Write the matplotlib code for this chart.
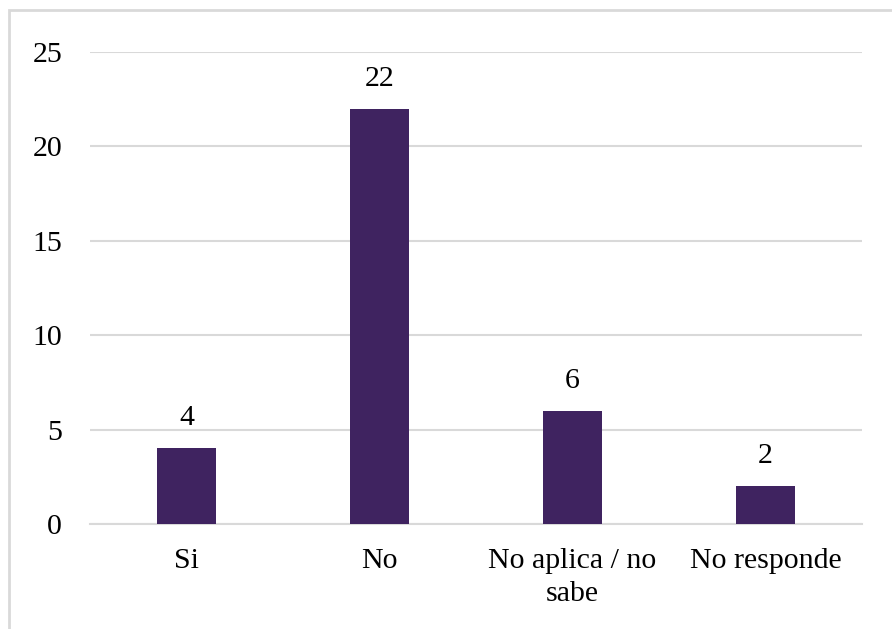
import matplotlib.pyplot as plt
from matplotlib.patches import Rectangle

categories = ['Si', 'No', 'No aplica / no\nsabe', 'No responde']
values = [4, 22, 6, 2]

plt.rcParams['font.family'] = ['Liberation Serif', 'DejaVu Serif']

fig = plt.figure(figsize=(8.92, 6.29), dpi=100)
ax = fig.add_axes([90/892, 1 - 524/629, 772/892, 472/629])

x = range(len(categories))
bars = ax.bar(x, values, width=0.31, color='#3F2360', zorder=3)
for b, v in zip(bars, values):
    ax.text(b.get_x() + b.get_width()/2, v + 0.9, str(v), ha='center', va='bottom', fontsize=21.5)

ax.set_xlim(-0.5, 3.5)
ax.set_ylim(0, 25)
ax.set_yticks(range(0, 26, 5))
ax.set_xticks(list(x))
ax.set_xticklabels(categories, fontsize=21.5, linespacing=1.35)
ax.tick_params(axis='y', labelsize=21.5, length=0, pad=20)
ax.tick_params(axis='x', length=0, pad=17)
ax.grid(axis='y', color='#D9D9D9', lw=1.5, zorder=0)
for s in ['top', 'right', 'left']:
    ax.spines[s].set_visible(False)
ax.spines['bottom'].set_color('#D9D9D9')
ax.spines['bottom'].set_linewidth(1.5)

# outer border of the chart box
fig.patches.append(Rectangle((9/892, -0.1), 1.2, 1 - 10/629 + 0.1, transform=fig.transFigure,
                             fill=False, edgecolor='#D9D9D9', lw=2))

fig.savefig('out.png', dpi=100)
